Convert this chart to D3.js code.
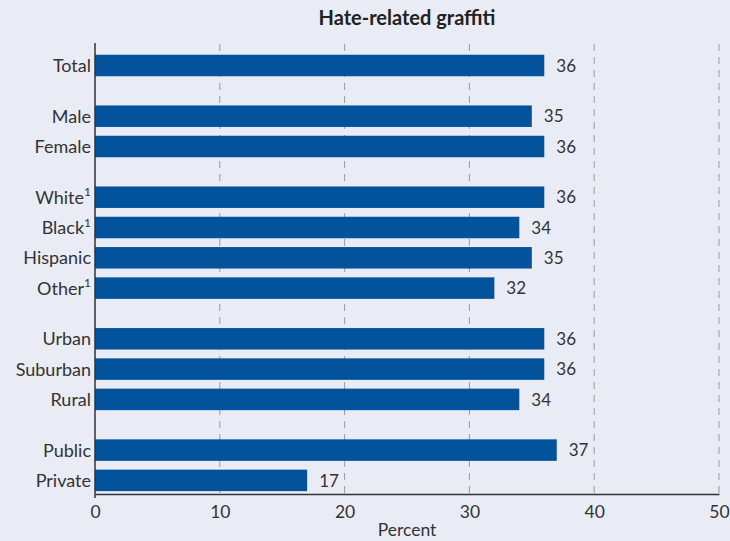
<!DOCTYPE html>
<html><head><meta charset="utf-8">
<script src="https://cdn.jsdelivr.net/npm/d3@7"></script>
<style>
html,body{margin:0;padding:0;background:#eaecf5;}
svg{display:block;font-family:Lato,"Open Sans",sans-serif;}
</style></head>
<body>
<svg id="c" width="730" height="541"></svg>
<script>
const categories = ["Total","Male","Female","White","Black","Hispanic","Other","Urban","Suburban","Rural","Public","Private"];
const values = [36,35,36,36,34,35,32,36,36,34,37,17];
const superscripts = ["","","","1","1","","1","","","","",""];
const groups = [0,1,1,2,2,2,2,3,3,3,4,4];
const xTicks = [0,10,20,30,40,50];
const title = "Hate-related graffiti";
const xLabel = "Percent";

(function(){
const svg = d3.select("#c");
const W = 730, H = 541;
const mLeft = 95, mRight = 719, mTop = 44, mBottom = 494;
const step = 30.3, gap = 20.4, bandH = 21.5, firstCenter = 65.5;
const FS = 18;

const x = d3.scaleLinear().domain([0,50]).range([mLeft,mRight]);
const pos = categories.map((c,i)=> i + groups[i]*gap/step);
const y = d3.scaleLinear().domain([0,1]).range([firstCenter, firstCenter+step]);

svg.append("rect").attr("width",W).attr("height",H).attr("fill","#eaecf5");

svg.append("g").selectAll("line").data(xTicks.filter(d=>d>0)).join("line")
  .attr("x1",d=>x(d)).attr("x2",d=>x(d)).attr("y1",mTop).attr("y2",mBottom)
  .attr("stroke","#9a9a9a").attr("stroke-width",1).attr("stroke-dasharray","7,6");

svg.append("g").selectAll("rect").data(categories).join("rect")
  .attr("x",x(0)).attr("y",(d,i)=>y(pos[i])-bandH/2)
  .attr("width",(d,i)=>x(values[i])-x(0)).attr("height",bandH)
  .attr("fill","#02529c");

svg.append("g").selectAll("text").data(categories).join("text")
  .attr("x",(d,i)=>x(values[i])+12).attr("y",(d,i)=>y(pos[i]))
  .attr("dy","0.36em").attr("font-size",17).attr("fill","#333")
  .text((d,i)=>values[i]);

const lab = svg.append("g").selectAll("text").data(categories).join("text")
  .attr("x",mLeft-4).attr("y",(d,i)=>y(pos[i]))
  .attr("dy","0.36em").attr("text-anchor","end").attr("font-size",FS).attr("fill","#333");
lab.append("tspan").text(d=>d);
lab.filter((d,i)=>superscripts[i]).append("tspan")
  .attr("font-size",12).attr("dy","-0.6em").text(d=>superscripts[categories.indexOf(d)]);

const xa = svg.append("g").attr("transform",`translate(0,${mBottom})`)
  .call(d3.axisBottom(x).tickValues(xTicks).tickSize(0).tickPadding(12));
xa.select(".domain").attr("stroke","#333").attr("stroke-width",1.5);
xa.selectAll("text").attr("font-size",17.5).attr("fill","#333").attr("font-family","Lato,'Open Sans',sans-serif");

svg.append("line").attr("x1",mLeft).attr("x2",mLeft).attr("y1",mTop-1).attr("y2",mBottom+4)
  .attr("stroke","#333").attr("stroke-width",1.5);

svg.append("text").attr("x",(mLeft+mRight)/2).attr("y",25).attr("text-anchor","middle")
  .attr("font-size",20).attr("font-weight","bold").attr("fill","#222").text(title);

svg.append("text").attr("x",(mLeft+mRight)/2).attr("y",536).attr("text-anchor","middle")
  .attr("font-size",17.5).attr("fill","#333").text(xLabel);
})();
</script>
</body></html>
